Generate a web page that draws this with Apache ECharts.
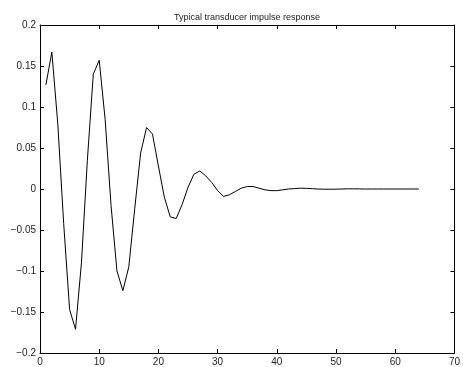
<!DOCTYPE html>
<html>
<head>
<meta charset="utf-8">
<title>Typical transducer impulse response</title>
<script src="https://cdn.jsdelivr.net/npm/echarts@6/dist/echarts.min.js"></script>
<style>
  html, body { margin: 0; padding: 0; background: #fff; }
  #chart { width: 463px; height: 367px; }
</style>
</head>
<body>
<div id="chart"></div>
<script>
// sample index (1..64) and the response
let samples = [];
for (let i = 1; i <= 64; i++) samples.push(i);

let response = [
    0.127, 0.167, 0.080, -0.042, -0.147, -0.171, -0.090, 0.035, 0.140, 0.157,
    0.085, -0.020, -0.100, -0.124, -0.095, -0.024, 0.044, 0.075, 0.067, 0.028,
    -0.010, -0.034, -0.036, -0.019, 0.002, 0.018, 0.022, 0.016, 0.008, -0.002,
    -0.009, -0.007, -0.003, 0.001, 0.003, 0.003, 0.001, -0.001, -0.002, -0.002,
    -0.001, 0.000, 0.0005, 0.001, 0.0008, 0.0004, 0.000, -0.0003, -0.0003, -0.0002,
    0.000, 0.0002, 0.0002, 0.0001, 0, 0, 0, 0, 0, 0,
    0, 0, 0, 0
];

let xTicks = [0, 10, 70, 10];        // min, interval, max
let yTicks = [-0.2, 0.05, 0.2];      // min, interval, max
let titleText = 'Typical transducer impulse response';

let chart = {
    fmt: (v) => {
        let s = String(Math.round(v * 1000) / 1000);
        return s.replace('-', '\u2212');
    },
    axisX: (pos, labels) => ({
        type: 'value',
        position: pos,
        min: xTicks[0], max: xTicks[2], interval: xTicks[1],
        axisLine: { show: true, onZero: false, lineStyle: { color: '#000', width: 1 } },
        axisTick: { show: true, inside: true, length: 4, lineStyle: { color: '#000' } },
        axisLabel: { show: labels, color: '#222', fontSize: 10, fontFamily: 'Liberation Sans', margin: 4 },
        splitLine: { show: false }
    }),
    axisY: (pos, labels) => ({
        type: 'value',
        position: pos,
        min: yTicks[0], max: yTicks[2], interval: yTicks[1],
        axisLine: { show: true, onZero: false, lineStyle: { color: '#000', width: 1 } },
        axisTick: { show: true, inside: true, length: 4, lineStyle: { color: '#000' } },
        axisLabel: { show: labels, color: '#222', fontSize: 10, fontFamily: 'Liberation Sans', margin: 4,
                     formatter: (v) => chart.fmt(v) },
        splitLine: { show: false }
    }),
    draw: () => {
        let myChart = echarts.init(document.getElementById('chart'), null, { renderer: 'canvas' });
        let pts = samples.map((x, i) => [x, response[i]]);
        let option = {
            animation: false,
            backgroundColor: '#fff',
            title: {
                text: titleText,
                left: 242, top: 8, textAlign: 'center',
                textStyle: { fontSize: 9, fontWeight: 'normal', color: '#222', fontFamily: 'Liberation Sans' }
            },
            grid: { left: 40, right: 6, top: 25, bottom: 12, containLabel: false },
            xAxis: [chart.axisX('bottom', true), chart.axisX('top', false)],
            yAxis: [chart.axisY('left', true), chart.axisY('right', false)],
            series: [{
                type: 'line',
                xAxisIndex: 0, yAxisIndex: 0,
                data: pts,
                showSymbol: false,
                lineStyle: { color: '#000', width: 1 }
            }]
        };
        myChart.setOption(option);
    }
};

chart.draw();
</script>
</body>
</html>
